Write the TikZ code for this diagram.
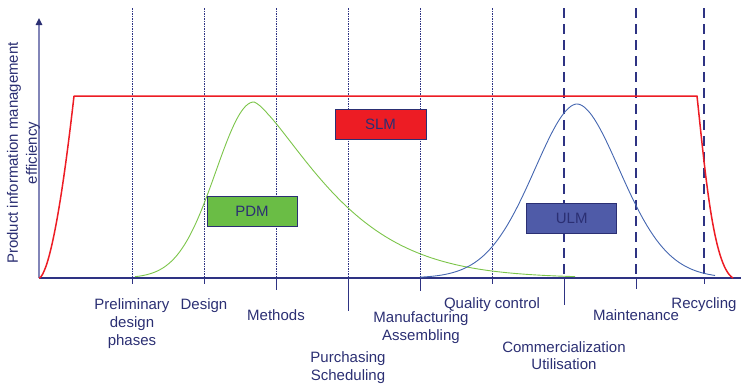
\documentclass[tikz,border=0pt]{standalone}
\usepackage{fontspec}
\setmainfont{Liberation Sans}
\usetikzlibrary{arrows.meta}
\definecolor{navy}{HTML}{2B2F73}
\definecolor{axisblue}{HTML}{2E3383}
\definecolor{yaxisblue}{HTML}{8285B8}
\definecolor{slmred}{HTML}{ED1C24}
\definecolor{pdmgreen}{HTML}{6ABD45}
\definecolor{ulmblue}{HTML}{4F5BA8}
\definecolor{curvegreen}{HTML}{7CC54A}
\definecolor{curveblue}{HTML}{4466B0}
\tikzset{
  lbl/.style={text=navy, font=\fontsize{15}{17.7}\selectfont, inner sep=0pt},
  lblm/.style={lbl, align=center, anchor=north},
  lbls/.style={lbl, anchor=base},
  box/.style={draw=navy, line width=0.9pt, minimum width=90pt, minimum height=30pt,
    text=navy, font=\fontsize{15}{18}\selectfont, inner sep=0pt},
  dotline/.style={axisblue, line width=0.8pt, dash pattern=on 1.5pt off 1pt},
  dashline/.style={axisblue, line width=1.8pt, dash pattern=on 10pt off 6pt},
  tickline/.style={axisblue, line width=1pt},
  redcurve/.style={slmred, line width=1.5pt, line join=round},
  greencurve/.style={curvegreen, line width=0.9pt},
  bluecurve/.style={curveblue, line width=0.9pt},
}
\begin{document}
\begin{tikzpicture}[x=1pt,y=-1pt]
\useasboundingbox (0,0) rectangle (741,383);
\coordinate (o) at (39,278);
\coordinate (xend) at (741,278);
\coordinate (ytop) at (39,18);

% vertical phase lines
\foreach \xx/\ee in {132/284,204/284,276/290,348/311,420/291,492/284} {
  \draw[dotline] (\xx,8) -- (\xx,278);
  \draw[tickline] (\xx,278) -- (\xx,\ee);
}
\foreach \xx/\ee in {564/305,636/289,704/284} {
  \draw[dashline] (\xx,8) -- (\xx,278);
  \draw[tickline] (\xx,278) -- (\xx,\ee);
}

% axes
\draw[axisblue, line width=1.5pt] (o) -- (xend);
\draw[yaxisblue, line width=1.5pt, -{Triangle[length=7pt,width=6.5pt,color=navy]}] (o) -- (ytop);

% curves
\draw[greencurve] plot[domain=135:254, samples=60] (\x,{278-176*exp(-((\x-254)/53.85)*((\x-254)/53.85))})
  -- plot[domain=254.5:575, samples=120] (\x,{278-176*exp(-(((\x-254)/100)^1.35))});
\draw[bluecurve] plot[domain=420:715, samples=150] (\x,{278-174*exp(-(((abs(\x-577)+0.01)/63.4)^1.85))});
\draw[redcurve] (o) -- plot[domain=0.01:1, samples=40] ({39+35*\x},{278-182*\x^1.7})
  -- (697,96) .. controls (705,170) and (713,266) .. (733,278);

% boxes
\node[box, fill=slmred, minimum width=91pt] (slm) at (380.5,124) {SLM};
\node[box, fill=pdmgreen] (pdm) at (252,211) {PDM};
\node[box, fill=ulmblue] (ulm) at (571.7,218.3) {ULM};

% y label
\node[lbl, align=center, rotate=90, font=\fontsize{15}{19}\selectfont] (ylab) at (23.5,153) {Product information management\\efficiency};

% phase labels
\node[lblm] (l1) at (132,298.7) {Preliminary\\design\\phases};
\node[lbls] (l2) at (204,309.5) {Design};
\node[lbls] (l3) at (276,320.7) {Methods};
\node[lblm] (l4) at (348,351.5) {Purchasing\\Scheduling};
\node[lblm] (l5) at (421,311.9) {Manufacturing\\Assembling};
\node[lbls] (l6) at (492,308) {Quality control};
\node[lblm] (l7) at (564,341.2) {Commercialization\\Utilisation};
\node[lbls] (l8) at (636,320.3) {Maintenance};
\node[lbls] (l9) at (704,308) {Recycling};
\end{tikzpicture}
\end{document}
